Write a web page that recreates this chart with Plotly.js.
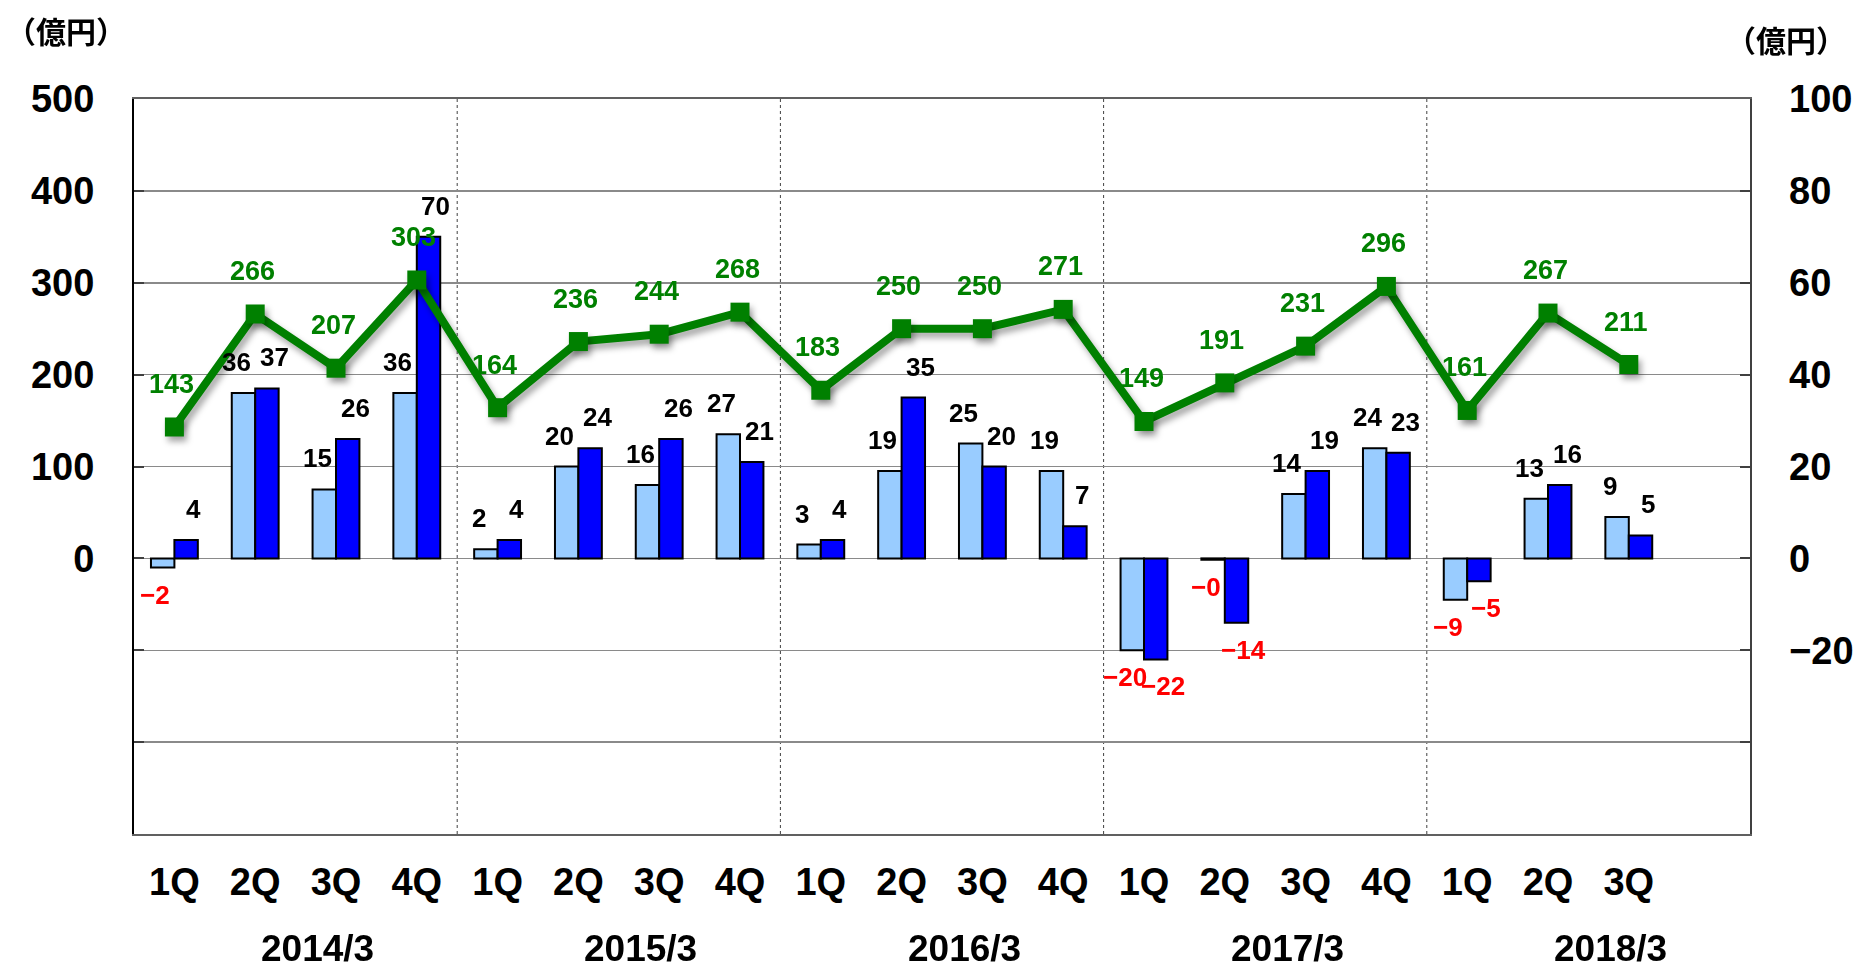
<!DOCTYPE html>
<html><head><meta charset="utf-8">
<script src="https://cdn.plot.ly/plotly-3.0.1.min.js"></script>
<style>html,body{margin:0;padding:0;background:#fff;} #chart{width:1853px;height:968px;}</style>
</head><body><div id="chart"></div>
<script>
// ---- data ----
const years = ["2014/3", "2015/3", "2016/3", "2017/3", "2018/3"];
const quarters = ["1Q","2Q","3Q","4Q", "1Q","2Q","3Q","4Q", "1Q","2Q","3Q","4Q", "1Q","2Q","3Q","4Q", "1Q","2Q","3Q"];
const seriesLight = [-2, 36, 15, 36,  2, 20, 16, 27,  3, 19, 25, 19,  -20, -0.3, 14, 24,  -9, 13, 9];
const seriesDark  = [ 4, 37, 26, 70,  4, 24, 26, 21,  4, 35, 20,  7,  -22, -14, 19, 23,  -5, 16, 5];
const lineValues  = [143, 266, 207, 303, 164, 236, 244, 268, 183, 250, 250, 271, 149, 191, 231, 296, 161, 267, 211];
const leftTickVals  = [-300, -200, -100, 0, 100, 200, 300, 400, 500];
const leftTickText  = ["", "", "", "0", "100", "200", "300", "400", "500"];
const rightTickVals = [-60, -40, -20, 0, 20, 40, 60, 80, 100];
const rightTickText = ["", "", "\u221220", "0", "20", "40", "60", "80", "100"];
const unitLabel = "（億円）";

// ---- build ----
const QPY = 4;
const nSlots = years.length * QPY;
const xs = quarters.map((_, i) => i);
const FONT = "Liberation Sans, Arial, sans-serif";
const fmt = v => (v < 0 ? "\u2212" + Math.abs(Math.round(v)) : String(Math.round(v)));

const traces = [
  { type: "bar", x: xs, y: seriesLight, yaxis: "y", name: "A",
    marker: { color: "#99CCFF", line: { color: "#000", width: 2 } }, hoverinfo: "skip" },
  { type: "bar", x: xs, y: seriesDark, yaxis: "y", name: "B",
    marker: { color: "#0000FF", line: { color: "#000", width: 2 } }, hoverinfo: "skip" },
  { type: "scatter", mode: "lines+markers", x: xs, y: lineValues, yaxis: "y2", name: "C",
    line: { color: "#008000", width: 8 },
    marker: { symbol: "square", size: 19, color: "#008000" }, hoverinfo: "skip", cliponaxis: false }
];

const annotations = [];
function barLabels(vals, xshift) {
  vals.forEach((v, i) => {
    const neg = v < 0;
    annotations.push({ x: i, y: v, xref: "x", yref: "y", text: fmt(v), showarrow: false,
      xshift: xshift, yshift: neg ? -10 : 14, yanchor: neg ? "top" : "bottom", xanchor: "center",
      font: { family: FONT, size: 26, weight: "bold", color: neg ? "#FF0000" : "#000000" } });
  });
}
barLabels(seriesLight, -19);
barLabels(seriesDark, 19);
lineValues.forEach((v, i) => {
  annotations.push({ x: i, y: v, xref: "x", yref: "y2", text: String(v), showarrow: false,
    xshift: -3, yshift: 26, yanchor: "bottom", xanchor: "center",
    font: { family: FONT, size: 27, weight: "bold", color: "#008000" } });
});
years.forEach((yr, k) => {
  annotations.push({ x: k * QPY + (QPY - 1) / 2, y: 0, xref: "x", yref: "paper", text: yr, showarrow: false,
    xshift: 22, yshift: -114, yanchor: "middle", xanchor: "center",
    font: { family: FONT, size: 37, weight: "bold", color: "#000" } });
});
annotations.push({ x: 0, y: 1, xref: "paper", yref: "paper", text: unitLabel, showarrow: false,
  xshift: -68, yshift: 69, xanchor: "center", yanchor: "middle",
  font: { family: "Noto Sans CJK JP, sans-serif", size: 30, weight: "bold", color: "#000" } });
annotations.push({ x: 1, y: 1, xref: "paper", yref: "paper", text: unitLabel, showarrow: false,
  xshift: 36, yshift: 60, xanchor: "center", yanchor: "middle",
  font: { family: "Noto Sans CJK JP, sans-serif", size: 30, weight: "bold", color: "#000" } });

const shapes = [];
for (let k = 1; k < years.length; k++) {
  shapes.push({ type: "line", xref: "x", yref: "paper", x0: k * QPY - 0.5, x1: k * QPY - 0.5, y0: 0, y1: 1,
    line: { color: "#404040", width: 1, dash: "dot" }, layer: "below" });
}

const tickFont = { family: FONT, size: 38, weight: "bold", color: "#000" };
const layout = {
  width: 1853, height: 968,
  margin: { l: 133.5, r: 103, t: 99, b: 134, pad: 0 },
  paper_bgcolor: "#fff", plot_bgcolor: "#fff",
  showlegend: false,
  barmode: "group", bargap: 0.42, bargroupgap: 0,
  xaxis: { range: [-0.5, nSlots - 0.5], tickmode: "array", tickvals: xs, ticktext: quarters,
    showgrid: false, zeroline: false, showline: true, linecolor: "#606060", linewidth: 2, mirror: true,
    ticks: "", tickfont: tickFont, ticklabelstandoff: 13, fixedrange: true },
  yaxis: { side: "right", range: [-60, 100], tickmode: "array", tickvals: rightTickVals, ticktext: rightTickText,
    showgrid: true, gridcolor: "#8a8a8a", gridwidth: 1.5, zeroline: false,
    showline: true, linecolor: "#404040", linewidth: 1.5,
    ticks: "inside", ticklen: 10, tickwidth: 2, tickcolor: "#404040",
    tickfont: tickFont, ticklabelstandoff: 30 },
  yaxis2: { overlaying: "y", side: "left", range: [-300, 500], tickmode: "array",
    tickvals: leftTickVals, ticktext: leftTickText,
    showgrid: false, zeroline: false, showline: true, linecolor: "#000", linewidth: 2,
    ticks: "inside", ticklen: 10, tickwidth: 2, tickcolor: "#404040",
    tickfont: tickFont, ticklabelstandoff: 30 },
  annotations: annotations,
  shapes: shapes
};

Plotly.newPlot("chart", traces, layout, { displayModeBar: false, staticPlot: true }).then(() => {
  document.querySelectorAll(".scatterlayer .trace .js-line, .scatterlayer .trace .points").forEach(el => {
    el.style.filter = "drop-shadow(3px 5px 3px rgba(0,0,0,0.35))";
  });
});
</script>
</body></html>
